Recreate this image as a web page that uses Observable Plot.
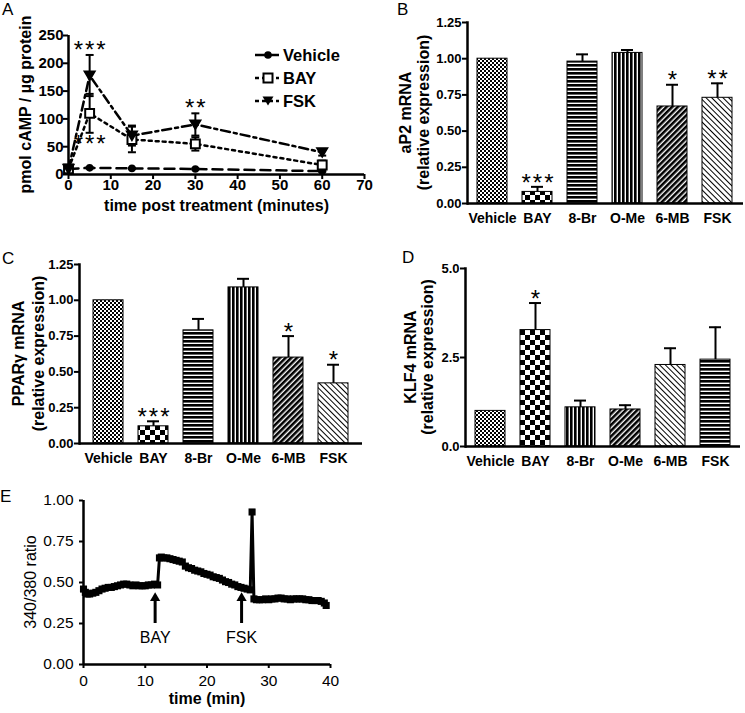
<!DOCTYPE html>
<html><head><meta charset="utf-8">
<script src="https://cdn.jsdelivr.net/npm/d3@7"></script>
<script src="https://cdn.jsdelivr.net/npm/@observablehq/plot@0.6"></script>
<style>
body{margin:0;background:#fff;}
#fig{position:relative;width:745px;height:713px;background:#fff;font-family:"Liberation Sans",Arial,sans-serif;color:#000;overflow:hidden;}
.letter{position:absolute;font-size:17px;line-height:17px;}
</style></head><body>
<svg width="0" height="0" style="position:absolute">
<defs>
 <pattern id="pFine" patternUnits="userSpaceOnUse" width="4" height="4"><rect width="4" height="4" fill="#fff"/><rect width="2" height="2" fill="#000"/><rect x="2" y="2" width="2" height="2" fill="#000"/></pattern>
 <pattern id="pCheck" patternUnits="userSpaceOnUse" width="10" height="10"><rect width="10" height="10" fill="#fff"/><rect width="5" height="5" fill="#000"/><rect x="5" y="5" width="5" height="5" fill="#000"/></pattern>
 <pattern id="pH" patternUnits="userSpaceOnUse" width="4" height="4"><rect width="4" height="4" fill="#fff"/><rect width="4" height="2.6" fill="#000"/></pattern>
 <pattern id="pV" patternUnits="userSpaceOnUse" width="4" height="4"><rect width="4" height="4" fill="#fff"/><rect width="2.6" height="4" fill="#000"/></pattern>
 <pattern id="pD1" patternUnits="userSpaceOnUse" width="4" height="4" patternTransform="rotate(45)"><rect width="4" height="4" fill="#fff"/><rect width="2.6" height="4" fill="#000"/></pattern>
 <pattern id="pD2" patternUnits="userSpaceOnUse" width="4" height="4" patternTransform="rotate(-45)"><rect width="4" height="4" fill="#fff"/><rect width="1" height="4" fill="#000"/></pattern>
</defs></svg>
<div id="fig"></div>
<script>
// ---------------- Panel A data ----------------
const timesA = [0, 5, 15, 30, 60];
const seriesA = ["Vehicle", "BAY", "FSK"];
const vehicleMean = [10, 12, 11, 10, 6];
const vehicleSem  = [1, 1, 1, 1, 1];
const bayMean = [10, 110, 63, 55, 17];
const baySem  = [2, 35, 23, 12, 8];
const fskMean = [10, 178, 70, 90, 40];
const fskSem  = [2, 37, 18, 20, 6];
const ticksAx = [0, 10, 20, 30, 40, 50, 60, 70];
const ticksAy = [0, 50, 100, 150, 200, 250];
const starsA = [
  {series: "FSK", t: 5, label: "***", side: "above"},
  {series: "BAY", t: 5, label: "***", side: "below"},
  {series: "FSK", t: 30, label: "**", side: "above"}
];

// ---------------- Panels B, C, D data ----------------
const categories = ["Vehicle", "BAY", "8-Br", "O-Me", "6-MB", "FSK"];
const aP2Mean = [1.00, 0.08, 0.98, 1.04, 0.67, 0.73];
const aP2Sem  = [0, 0.035, 0.05, 0.02, 0.15, 0.10];
const aP2Stars = ["", "***", "", "", "*", "**"];
const pparMean = [1.00, 0.12, 0.79, 1.09, 0.60, 0.42];
const pparSem  = [0, 0.035, 0.08, 0.06, 0.15, 0.13];
const pparStars = ["", "***", "", "", "*", "*"];
const klf4Mean = [1.0, 3.27, 1.10, 1.04, 2.29, 2.44];
const klf4Sem  = [0, 0.76, 0.19, 0.12, 0.47, 0.91];
const klf4Stars = ["", "*", "", "", "", ""];
const ticksBC = [0, 0.25, 0.5, 0.75, 1.0, 1.25];
const ticksD = [0, 2.5, 5.0];

// ---------------- Panel E data ----------------
const eTime = [0, 0.3, 0.6, 1, 1.5, 2, 2.5, 3, 3.5, 4, 4.5, 5, 5.5, 6, 6.5, 7, 7.5, 8, 8.5, 9, 9.5, 10, 10.5, 11, 11.5, 12, 12.3, 12.6, 13, 13.5, 14, 14.5, 15, 15.5, 16, 16.5, 17, 17.5, 18, 18.5, 19, 19.5, 20, 20.5, 21, 21.5, 22, 22.5, 23, 23.5, 24, 24.5, 25, 25.5, 26, 26.5, 27, 27.3, 27.6, 28, 28.5, 29, 29.5, 30, 30.5, 31, 31.5, 32, 32.5, 33, 33.5, 34, 34.5, 35, 35.5, 36, 36.5, 37, 37.5, 38, 38.5, 39, 39.3];
const eRatio = [0.46, 0.44, 0.43, 0.43, 0.435, 0.44, 0.45, 0.46, 0.465, 0.47, 0.47, 0.475, 0.48, 0.485, 0.49, 0.49, 0.485, 0.48, 0.485, 0.48, 0.48, 0.48, 0.485, 0.485, 0.49, 0.485, 0.65, 0.655, 0.65, 0.65, 0.645, 0.64, 0.635, 0.63, 0.625, 0.60, 0.59, 0.585, 0.575, 0.57, 0.565, 0.555, 0.55, 0.545, 0.535, 0.53, 0.525, 0.515, 0.505, 0.50, 0.49, 0.485, 0.475, 0.47, 0.465, 0.46, 0.455, 0.93, 0.40, 0.395, 0.395, 0.395, 0.40, 0.395, 0.40, 0.40, 0.405, 0.405, 0.40, 0.40, 0.395, 0.40, 0.40, 0.40, 0.40, 0.395, 0.395, 0.39, 0.39, 0.39, 0.385, 0.375, 0.36];
const ticksEx = [0, 10, 20, 30, 40];
const ticksEy = [0, 0.25, 0.5, 0.75, 1.0];
const annotE = [{label: "BAY", t: 11.6}, {label: "FSK", t: 25.6}];
const arrowTail = 0.25, arrowHead = 0.405, arrowText = 0.165;

// ---------------- styles ----------------
const FONT = '"Liberation Sans", Arial, sans-serif';
const dashA = {Vehicle: "10,6", BAY: "3,4", FSK: "9,4,3,4"};
const patBC = {"Vehicle": "pFine", "BAY": "pCheck", "8-Br": "pH", "O-Me": "pV", "6-MB": "pD1", "FSK": "pD2"};
const patD  = {"Vehicle": "pFine", "BAY": "pCheck", "8-Br": "pV", "O-Me": "pD1", "6-MB": "pD2", "FSK": "pH"};
const spaced = s => s.split("").join("\u200A");   // hair-spaced asterisks, as in the figure

const capSym = {draw(ctx, size) { const h = Math.sqrt(size / Math.PI); ctx.moveTo(-h, 0); ctx.lineTo(h, 0); }};
const triDown = {draw(ctx, size) { const r = Math.sqrt(size / Math.PI); const s = r * 1.35; ctx.moveTo(-s, -s * 0.8); ctx.lineTo(s, -s * 0.8); ctx.lineTo(0, s * 0.9); ctx.closePath(); }};

const fig = document.getElementById("fig");
function place(el, left, top) {
  el.style.position = "absolute";
  el.style.left = left + "px";
  el.style.top = top + "px";
  fig.appendChild(el);
}
// rotated y-axis title (one or more lines) drawn into a Plot svg
function yTitle(svg, lines, cx, cy, o = {}) {
  const gap = o.gap ?? 18;
  const g = d3.select(svg).append("g")
    .attr("font-family", FONT).attr("font-size", o.size ?? 16).attr("font-weight", o.weight ?? "bold")
    .attr("fill", "black").attr("text-anchor", "middle");
  lines.forEach((line, i) => {
    const x = cx + (i - (lines.length - 1) / 2) * gap;
    g.append("text").attr("transform", `translate(${x},${cy}) rotate(-90)`).attr("dy", "0.35em").text(line);
  });
}

// ---------------- Panel A ----------------
const meanBy = {Vehicle: vehicleMean, BAY: bayMean, FSK: fskMean};
const semBy = {Vehicle: vehicleSem, BAY: baySem, FSK: fskSem};
const rowsA = seriesA.flatMap(s => timesA.map((t, i) => ({series: s, t, mean: meanBy[s][i], sem: semBy[s][i]})));
const rowOf = (s, t) => rowsA.find(d => d.series === s && d.t === t);

const plotA = Plot.plot({
  width: 370, height: 215, marginLeft: 68, marginRight: 6, marginTop: 35, marginBottom: 41,
  x: {domain: [0, 70]}, y: {domain: [0, 250]},
  style: {fontFamily: FONT, fontSize: "15px", fontWeight: "bold", background: "transparent", overflow: "visible", color: "black"},
  marks: [
    ...seriesA.map(s => Plot.line(rowsA.filter(d => d.series === s), {x: "t", y: "mean", stroke: "black", strokeWidth: 2.5, strokeDasharray: dashA[s]})),
    Plot.ruleX(rowsA, {x: "t", y1: d => d.mean - d.sem, y2: d => d.mean + d.sem, stroke: "black", strokeWidth: 2}),
    Plot.dot(rowsA, {x: "t", y: d => d.mean + d.sem, symbol: capSym, r: 4, fill: "none", stroke: "black", strokeWidth: 2}),
    Plot.dot(rowsA, {x: "t", y: d => d.mean - d.sem, symbol: capSym, r: 4, fill: "none", stroke: "black", strokeWidth: 2}),
    Plot.dot(rowsA.filter(d => d.series === "Vehicle"), {x: "t", y: "mean", symbol: "circle", r: 3.8, fill: "black"}),
    Plot.dot(rowsA.filter(d => d.series === "BAY"), {x: "t", y: "mean", symbol: "square", r: 5, fill: "white", stroke: "black", strokeWidth: 2}),
    Plot.dot(rowsA.filter(d => d.series === "FSK"), {x: "t", y: "mean", symbol: triDown, r: 4, fill: "black", stroke: "black"}),
    Plot.ruleY([0], {stroke: "black", strokeWidth: 2.5}),
    Plot.ruleX([0], {stroke: "black", strokeWidth: 2.5}),
    Plot.axisX({ticks: ticksAx, tickSize: 5, tickPadding: 0, strokeWidth: 2, label: null, fontSize: 15}),
    Plot.axisY({ticks: ticksAy, tickSize: 5, tickPadding: 0, strokeWidth: 2, label: null, fontSize: 15}),
    Plot.text(starsA.filter(d => d.side === "above"), {x: "t", y: d => { const r = rowOf(d.series, d.t); return r.mean + r.sem; }, text: d => spaced(d.label), dy: -5, fontSize: 24, fontWeight: "normal"}),
    Plot.text(starsA.filter(d => d.side === "below"), {x: "t", y: d => { const r = rowOf(d.series, d.t); return r.mean - r.sem; }, text: d => spaced(d.label), dy: 12, fontSize: 24, fontWeight: "normal"}),
    Plot.text(["time post treatment (minutes)"], {text: d => d, frameAnchor: "bottom", dy: 36, fontSize: 16})
  ]
});
yTitle(plotA, ["pmol cAMP / µg protein"], 25.5, 104.5);
place(plotA, 0, 0);

// legend for A (d3)
const legY = d3.scalePoint().domain(seriesA).range([55, 101]);
const leg = d3.create("svg").attr("width", 370).attr("height", 215).style("overflow", "visible");
const legG = leg.selectAll("g").data(seriesA).join("g").attr("transform", s => `translate(0,${legY(s)})`);
legG.append("line").attr("x1", 255).attr("x2", 279).attr("stroke", "black").attr("stroke-width", 2.5).attr("stroke-dasharray", s => s === "Vehicle" ? null : "4,3");
legG.filter(s => s === "Vehicle").append("circle").attr("cx", 268).attr("r", 3.8).attr("fill", "black");
legG.filter(s => s === "BAY").append("rect").attr("x", 263.5).attr("y", -4.5).attr("width", 9).attr("height", 9).attr("fill", "white").attr("stroke", "black").attr("stroke-width", 2);
legG.filter(s => s === "FSK").append("path").attr("d", "M262.5,-4.5L273.5,-4.5L268,4.5Z").attr("fill", "black");
legG.append("text").attr("x", 283).attr("dy", "0.35em").attr("font-family", FONT).attr("font-size", 16.5).attr("font-weight", "bold").text(s => s);
place(leg.node(), 0, 0);

// ---------------- Bar panels ----------------
function barPanel(o) {
  const rows = categories.map((c, i) => ({cat: c, val: o.mean[i], err: o.sem[i], star: o.stars[i]}));
  const withErr = rows.filter(d => d.err > 0);
  const svg = Plot.plot({
    width: o.width, height: o.height,
    marginLeft: o.mL, marginRight: o.mR, marginTop: o.mT, marginBottom: o.mB,
    x: {type: "band", domain: categories, paddingInner: 0.333, paddingOuter: o.pO},
    y: {domain: o.yDomain},
    color: {type: "identity"},
    style: {fontFamily: FONT, fontSize: "13px", fontWeight: "bold", background: "transparent", overflow: "visible", color: "black"},
    marks: [
      Plot.barY(rows, {x: "cat", y: "val", fill: d => `url(#${o.pats[d.cat]})`, stroke: "black", strokeWidth: 1}),
      Plot.ruleX(withErr, {x: "cat", y1: "val", y2: d => d.val + d.err, stroke: "black", strokeWidth: 2}),
      Plot.tickY(withErr, {x: "cat", y: d => d.val + d.err, insetLeft: 9, insetRight: 9, stroke: "black", strokeWidth: 2}),
      Plot.text(rows.filter(d => d.star), {x: "cat", y: d => d.val + d.err, text: d => spaced(d.star), dy: -4, fontSize: 24, fontWeight: "normal"}),
      Plot.ruleY([0], {stroke: "black", strokeWidth: 2.5}),
      Plot.frame({anchor: "left", stroke: "black", strokeWidth: 2.5}),
      Plot.axisY({ticks: o.yTicks, tickFormat: o.yFmt, tickSize: 5, tickPadding: 1, strokeWidth: 2, label: null, fontSize: 13}),
      Plot.axisX({tickSize: 0, tickPadding: 10, label: null, fontSize: 14})
    ]
  });
  yTitle(svg, o.title, o.mL + o.titleDx, (o.mT + o.height - o.mB) / 2, {gap: o.gap});
  place(svg, o.left, o.top);
}

barPanel({mean: aP2Mean, sem: aP2Sem, stars: aP2Stars, pats: patBC, yDomain: [0, 1.25], yTicks: ticksBC, yFmt: ".2f",
  title: ["aP2 mRNA", "(relative expression)"], left: 370, top: 0, width: 375, height: 225, mL: 97, mR: 2, mT: 22, mB: 22, pO: 0.233, titleDx: -53, gap: 18});
barPanel({mean: pparMean, sem: pparSem, stars: pparStars, pats: patBC, yDomain: [0, 1.25], yTicks: ticksBC, yFmt: ".2f",
  title: ["PPARγ mRNA", "(relative expression)"], left: 0, top: 240, width: 370, height: 225, mL: 79, mR: 8, mT: 24, mB: 22, pO: 0.3, titleDx: -51, gap: 20});
barPanel({mean: klf4Mean, sem: klf4Sem, stars: klf4Stars, pats: patD, yDomain: [0, 5], yTicks: ticksD, yFmt: ".1f",
  title: ["KLF4 mRNA", "(relative expression)"], left: 370, top: 240, width: 375, height: 225, mL: 95, mR: 5, mT: 28, mB: 19, pO: 0.215, titleDx: -46.5, gap: 17});

// ---------------- Panel E ----------------
const rowsE = eTime.map((t, i) => ({t, r: eRatio[i]}));
const plotE = Plot.plot({
  width: 370, height: 243, marginLeft: 83, marginRight: 40, marginTop: 30, marginBottom: 49,
  x: {domain: [0, 40]}, y: {domain: [0, 1]},
  style: {fontFamily: FONT, fontSize: "15px", fontWeight: "normal", background: "transparent", overflow: "visible", color: "black"},
  marks: [
    Plot.line(rowsE, {x: "t", y: "r", stroke: "black", strokeWidth: 3}),
    Plot.dot(rowsE, {x: "t", y: "r", symbol: "square", r: 4, fill: "black"}),
    Plot.ruleX(annotE, {x: "t", y1: arrowTail, y2: arrowHead - 0.02, stroke: "black", strokeWidth: 3}),
    Plot.dot(annotE, {x: "t", y: arrowHead, symbol: "triangle", r: 3.8, fill: "black"}),
    Plot.text(annotE, {x: "t", y: arrowText, text: "label", fontSize: 16}),
    Plot.ruleY([0], {stroke: "black", strokeWidth: 2.5}),
    Plot.ruleX([0], {stroke: "black", strokeWidth: 2.5}),
    Plot.axisX({ticks: ticksEx, tickSize: 4, tickPadding: 6, strokeWidth: 2, label: null, fontSize: 15.5}),
    Plot.axisY({ticks: ticksEy, tickFormat: ".2f", tickSize: 4, tickPadding: 6, strokeWidth: 2, label: null, fontSize: 15.5}),
    Plot.text(["time (min)"], {text: d => d, frameAnchor: "bottom", dy: 39, fontSize: 16, fontWeight: "bold"})
  ]
});
yTitle(plotE, ["340/380 ratio"], 30, 112, {weight: "normal"});
place(plotE, 0, 470);

// ---------------- panel letters ----------------
[["A", 2, 1], ["B", 397, 1], ["C", 2, 250], ["D", 402, 249], ["E", 0, 488]].forEach(([t, x, y]) => {
  const d = document.createElement("div");
  d.className = "letter";
  d.textContent = t;
  d.style.left = x + "px";
  d.style.top = y + "px";
  fig.appendChild(d);
});
</script>
</body></html>
